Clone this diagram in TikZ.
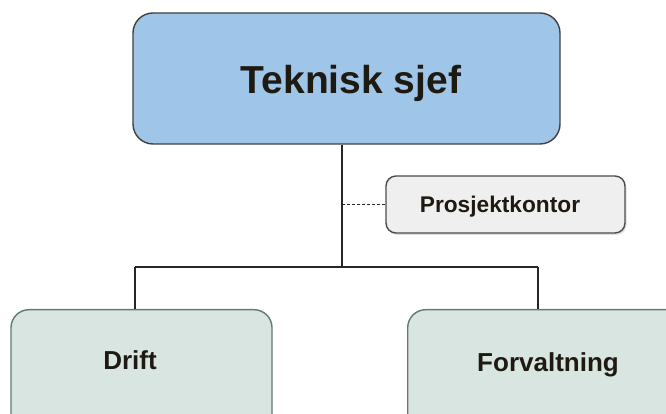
\documentclass[tikz,border=0pt]{standalone}
\usepackage{fontspec}
\setmainfont{Liberation Sans}
\usetikzlibrary{shadows}

\definecolor{sjefblue}{HTML}{9FC5E8}
\definecolor{avdfill}{HTML}{D9E5E1}
\definecolor{avdline}{HTML}{5E7C70}
\definecolor{kontorfill}{HTML}{EFEFEF}
\definecolor{tekst}{HTML}{1E1A12}

\begin{document}
\begin{tikzpicture}[x=1pt,y=1pt,
	sjefboks/.style={draw=black!75, line width=1.4pt, fill=sjefblue, rounded corners=20pt},
	kontorboks/.style={draw=black!70, line width=1.4pt, fill=kontorfill, rounded corners=10pt,
		drop shadow={opacity=0.25, shadow xshift=1.5pt, shadow yshift=-2pt}},
	avdboks/.style={draw=avdline, line width=1.4pt, fill=avdfill, rounded corners=18pt},
	linje/.style={draw=black!85, line width=1.5pt}]
\useasboundingbox (0,0) rectangle (666,414);
\clip (0,0) rectangle (666,414);

% toppleder
\node[sjefboks, minimum width=427pt, minimum height=131pt] (sjef) at (346.5,335.5) {};
\node[text=tekst, font=\fontsize{39}{44}\selectfont\bfseries] (sjeftekst) at (351,331) {Teknisk sjef};

% stab
\node[kontorboks, minimum width=239pt, minimum height=57pt] (kontor) at (505.5,209.5) {};
\node[text=tekst, font=\fontsize{22.7}{26}\selectfont\bfseries] (kontortekst) at (500,207) {Prosjektkontor};

% avdelinger
\node[avdboks, anchor=north, minimum width=261pt, minimum height=150pt] (drift) at (141.5,105) {};
\node[text=tekst, font=\fontsize{26}{30}\selectfont\bfseries] (drifttekst) at (130,54) {Drift};
\node[avdboks, anchor=north west, minimum width=290pt, minimum height=150pt] (forv) at (407,105) {};
\node[text=tekst, font=\fontsize{26}{30}\selectfont\bfseries] (forvtekst) at (548,49) {Forvaltning};

% linjer
\coordinate (knekk) at (342,147);
\coordinate (vgren) at (135,147);
\coordinate (hgren) at (538,147);
\draw[linje] (sjef.south -| knekk) -- (knekk);
\draw[linje, dash pattern=on 3pt off 2pt, line width=1.4pt] (kontor.west) -- (kontor.west -| knekk);
\draw[linje] (vgren) -- (hgren);
\draw[linje] (vgren) -- (vgren |- drift.north);
\draw[linje] (hgren) -- (hgren |- forv.north);
\end{tikzpicture}
\end{document}
